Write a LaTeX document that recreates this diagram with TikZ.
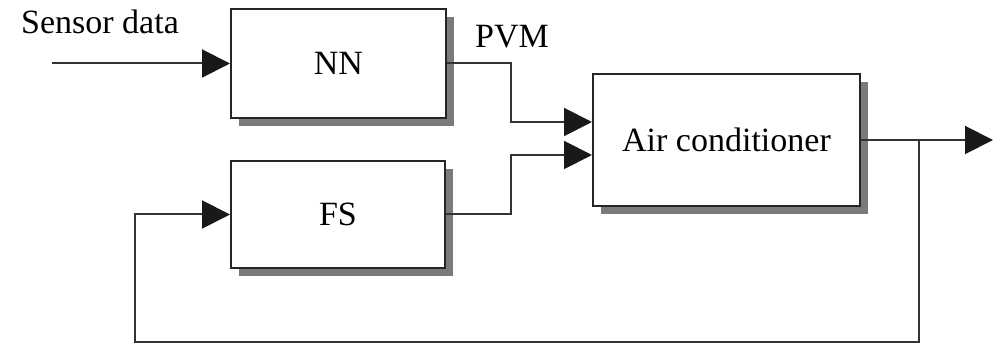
\documentclass[tikz,border=0pt]{standalone}
\usepackage{fontspec}
\setmainfont{Liberation Serif}
\usetikzlibrary{arrows.meta,calc,shadows}
\begin{document}
\begin{tikzpicture}[x=1pt,y=-1pt,
  blk/.style={draw=black!85,line width=2pt,fill=white,inner sep=0pt,
    font=\fontsize{34}{40}\selectfont,
    drop shadow={shadow xshift=8pt,shadow yshift=-8pt,fill=black!52,opacity=1}},
  wire/.style={draw=black!80,line width=2pt},
  arr/.style={wire,-{Triangle[length=28pt,width=28pt,color=black!90,fill=black!90]}},
  lbl/.style={font=\fontsize{34}{40}\selectfont,inner sep=0pt}]
\useasboundingbox (0,0) rectangle (993,344);
\node[blk,minimum width=215pt,minimum height=109pt] (NN) at (338.5,63.5) {NN};
\node[blk,minimum width=214pt,minimum height=107pt] (FS) at (338,214.5) {FS};
\node[blk,minimum width=267pt,minimum height=132pt] (AC) at (726.5,140) {Air conditioner};
\node[lbl] (sd) at (100,22) {Sensor data};
\node[lbl] (pvm) at (512,37) {PVM};
\coordinate (src) at (52,63.5);
\coordinate (out) at (993,140);
\coordinate (br) at (919,140);
\coordinate (fb1) at (919,342);
\coordinate (fb2) at (135,342);
\draw[arr] (src) -- (NN.west);
\draw[arr] (NN.east) -| ($(AC.west)+(-81,-18)$) -- ($(AC.west)+(0,-18)$);
\draw[arr] (FS.east) -| ($(AC.west)+(-81,15)$) -- ($(AC.west)+(0,15)$);
\draw[arr] (AC.east) -- (out);
\draw[arr] (br) -- (fb1) -- (fb2) |- (FS.west);
\end{tikzpicture}
\end{document}
